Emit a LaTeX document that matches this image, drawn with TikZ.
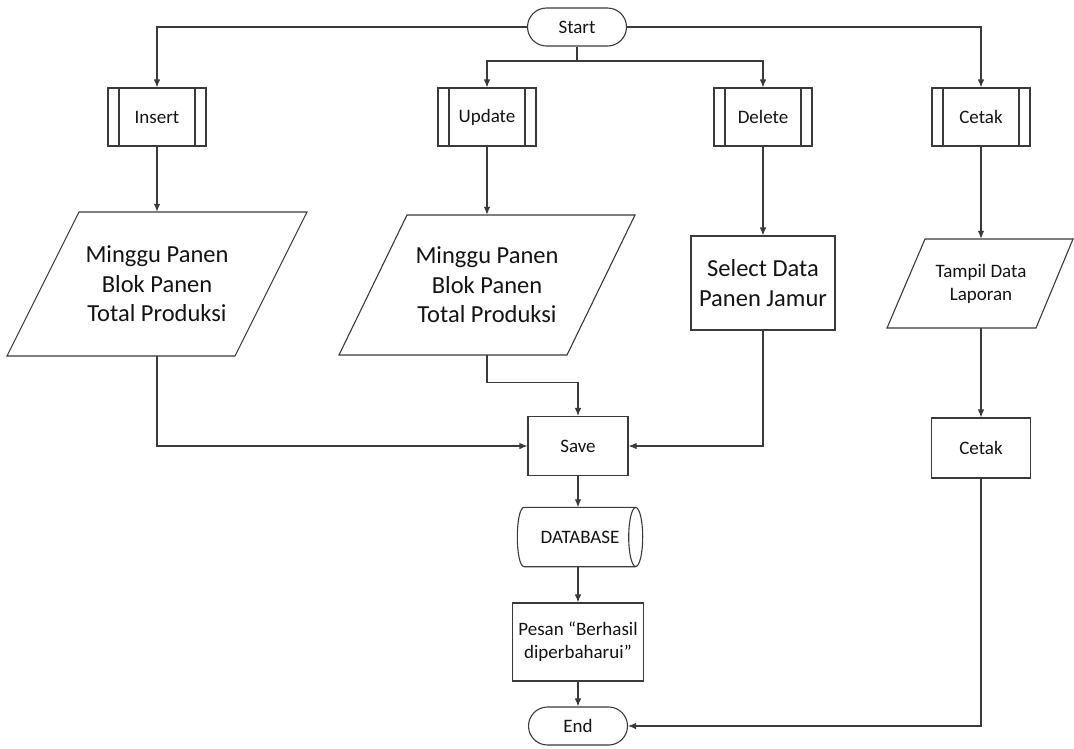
\documentclass[tikz,border=0pt]{standalone}
\usepackage{fontspec}
\setmainfont{Carlito}
\usetikzlibrary{arrows.meta,shapes.misc,calc}
\definecolor{lc}{HTML}{3A3A3A}
\definecolor{tc}{HTML}{141414}
\begin{document}
\begin{tikzpicture}[x=1pt,y=-1pt,
  line/.style={draw=lc, line width=1.1pt},
  arr/.style={line, -{Latex[length=8pt,width=6.5pt]}},
  small/.style={font=\fontsize{19}{23}\selectfont, text=tc, align=center},
  big/.style={font=\fontsize{24.5}{29.5}\selectfont, text=tc, align=center},
  term/.style={small, rounded rectangle, line, minimum width=99pt, minimum height=38pt, inner sep=0pt},
  proc/.style={small, rectangle, line, inner sep=0pt},
  pre/.style={proc, minimum width=98pt, minimum height=58pt,
    path picture={
      \draw[line] ([xshift=11pt]path picture bounding box.north west) -- ([xshift=11pt]path picture bounding box.south west);
      \draw[line] ([xshift=-11pt]path picture bounding box.north east) -- ([xshift=-11pt]path picture bounding box.south east);}},
  ]
\path[use as bounding box, fill=white] (0,0) rectangle (1074,748);

% top row
\node[term] (start) at (577,27) {Start};
\coordinate (br) at (577,61);
\node[pre] (ins) at (157,117) {Insert};
\node[pre] (upd) at (487,117) {Update};
\node[pre] (del) at (763,117) {Delete};
\node[pre] (cet) at (981,117) {Cetak};

% middle row
\node[big, minimum height=144pt] (in1) at (157,284) {Minggu Panen\\Blok Panen\\Total Produksi};
\draw[line] (79,212) -- (307,212) -- (235,356) -- (7,356) -- cycle;

\node[big, minimum height=140pt] (in2) at (487,285) {Minggu Panen\\Blok Panen\\Total Produksi};
\draw[line] (407,215) -- (635,215) -- (567,355) -- (339,355) -- cycle;

\node[big, line, inner sep=0pt, minimum width=144pt, minimum height=94pt] (sel) at (763,283) {Select Data\\Panen Jamur};

\node[small, minimum height=89pt] (tam) at (981,283.5) {Tampil Data\\Laporan};
\draw[line] (925,239) -- (1073,239) -- (1036,328) -- (887,328) -- cycle;

\node[proc, minimum width=99pt, minimum height=60pt] (cetb) at (981,448) {Cetak};

% lower column
\node[proc, minimum width=100pt, minimum height=59pt] (save) at (578,446) {Save};
\node[small, minimum width=125pt, minimum height=59pt, inner sep=0pt] (db) at (580,537) {DATABASE};
\draw[line] ([xshift=7pt]db.north west) -- ([xshift=-7pt]db.north east)
  ([xshift=-7pt]db.south east) -- ([xshift=7pt]db.south west)
  .. controls ([xshift=-2.3pt]db.south west) and ([xshift=-2.3pt]db.north west) .. ([xshift=7pt]db.north west);
\draw[line] ([xshift=-7pt]db.east) ellipse [x radius=7pt, y radius=29.5pt];
\node[proc, minimum width=131pt, minimum height=78pt] (pes) at (578,642) {Pesan “Berhasil\\diperbaharui”};
\node[term] (end) at (578,726) {End};

% connectors
\draw[arr] (start.west) -| (ins.north);
\draw[arr] (start.east) -| (cet.north);
\draw[line] (start.south) -- (br);
\draw[arr] (br) -| (upd.north);
\draw[arr] (br) -| (del.north);

\draw[arr] (ins.south) -- (ins.south |- in1.north);
\draw[arr] (in1.south) |- (save.west);
\draw[arr] (upd.south) -- (upd.south |- in2.north);
\draw[arr] (in2.south) -- ++(0,27) -| (save.north);
\draw[arr] (del.south) -- (del.south |- sel.north);
\draw[arr] (sel.south) |- (save.east);
\draw[arr] (cet.south) -- (cet.south |- tam.north);
\draw[arr] (tam.south) -- (tam.south |- cetb.north);
\draw[arr] (cetb.south) |- (end.east);

\draw[arr] (save.south) -- (save.south |- db.north);
\draw[arr] (save.south |- db.south) -- (save.south |- pes.north);
\draw[arr] (pes.south) -- (pes.south |- end.north);
\end{tikzpicture}
\end{document}
